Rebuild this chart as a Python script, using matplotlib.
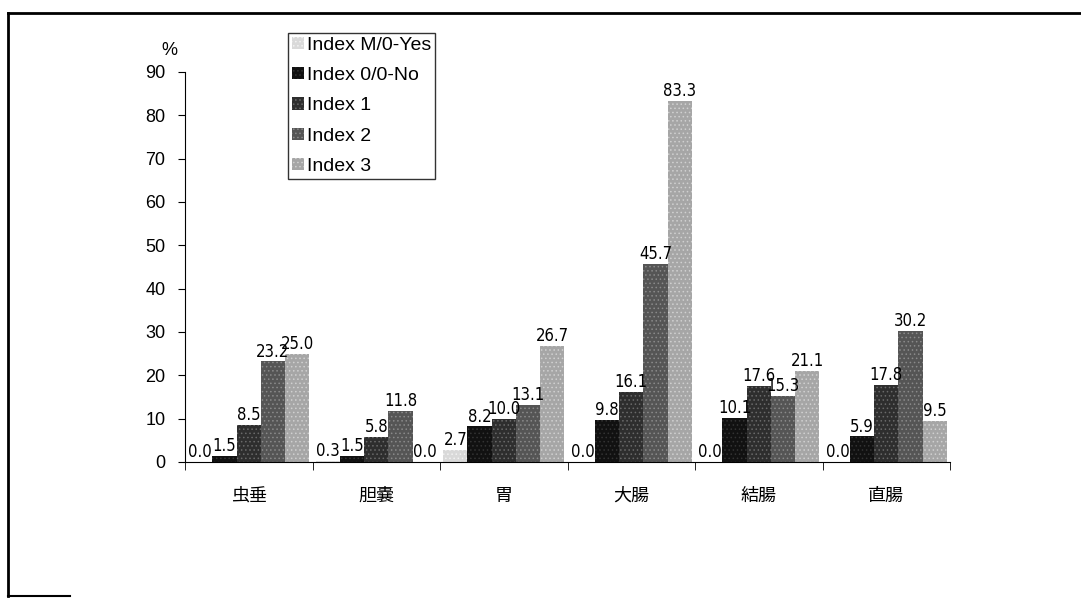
import numpy as np
import matplotlib.pyplot as plt
from matplotlib.lines import Line2D

plt.rcParams['font.family'] = ['Liberation Sans', 'Noto Sans CJK JP', 'DejaVu Sans']
plt.rcParams['hatch.linewidth'] = 0.6

organs = ['虫垂', '胆嚢', '胃', '大腸', '結腸', '直腸']
series_names = ['Index M/0-Yes', 'Index 0/0-No', 'Index 1', 'Index 2', 'Index 3']

idx_m0_yes = [0.0, 0.3, 2.7, 0.0, 0.0, 0.0]
idx_00_no = [1.5, 1.5, 8.2, 9.8, 10.1, 5.9]
idx_1 = [8.5, 5.8, 10.0, 16.1, 17.6, 17.8]
idx_2 = [23.2, 11.8, 13.1, 45.7, 15.3, 30.2]
idx_3 = [25.0, 0.0, 26.7, 83.3, 21.1, 9.5]

# grey fills with a light speckle to look like a printed halftone
fills = ['#d9d9d9', '#111111', '#2e2e2e', '#555555', '#a6a6a6']
speckle = ['#f2f2f2', '#333333', '#6a6a6a', '#8a8a8a', '#d0d0d0']

fig = plt.figure(figsize=(10.81, 6.11), dpi=100)
ax = fig.add_axes([185 / 1081, 1 - 462 / 611, 765 / 1081, 390 / 611])

x = np.arange(len(organs))
width = 0.19
all_series = [idx_m0_yes, idx_00_no, idx_1, idx_2, idx_3]
for i, vals in enumerate(all_series):
    pos = x + (i - 2) * width
    ax.bar(pos, vals, width, color=fills[i], edgecolor=speckle[i],
           hatch='....', linewidth=0, label=series_names[i])
    for xp, v in zip(pos, vals):
        ax.text(xp, v + 0.2, f'{v:.1f}', ha='center', va='bottom',
                fontsize=12, family='DejaVu Sans', fontstretch='condensed')

ax.set_xlim(-0.5, len(organs) - 0.5)
ax.set_ylim(0, 90)
ax.set_yticks(np.arange(0, 91, 10))
ax.set_xticks(x)
ax.set_xticklabels(organs, fontsize=13, family=['Noto Sans CJK JP'])
ax.set_xticks(np.arange(-0.5, len(organs), 1), minor=True)
ax.tick_params(axis='x', which='major', length=0, pad=18)
ax.tick_params(axis='x', which='minor', length=6, direction='out')
ax.tick_params(axis='y', length=5, direction='out', labelsize=13, pad=9)
ax.spines['top'].set_visible(False)
ax.spines['right'].set_visible(False)
ax.text(-0.62, 95, '%', fontsize=13, ha='center', va='center')

leg = ax.legend(loc='upper left', bbox_to_anchor=(0.135, 1.1), fontsize=14,
                frameon=True, fancybox=False, edgecolor='black',
                handlelength=0.6, handleheight=0.6, handletextpad=0.15,
                borderpad=0.2, labelspacing=0.68, borderaxespad=0)
leg.get_frame().set_linewidth(1.0)

# outer frame of the figure
fig.add_artist(Line2D([8 / 1081, 8 / 1081], [1 - 596 / 611, 1 - 13 / 611],
                      color='black', lw=2, transform=fig.transFigure))
fig.add_artist(Line2D([8 / 1081, 1.0], [1 - 13 / 611, 1 - 13 / 611],
                      color='black', lw=2, transform=fig.transFigure))
fig.add_artist(Line2D([8 / 1081, 70 / 1081], [1 - 596 / 611, 1 - 596 / 611],
                      color='black', lw=1.5, transform=fig.transFigure))

fig.savefig('out.png', dpi=100)
